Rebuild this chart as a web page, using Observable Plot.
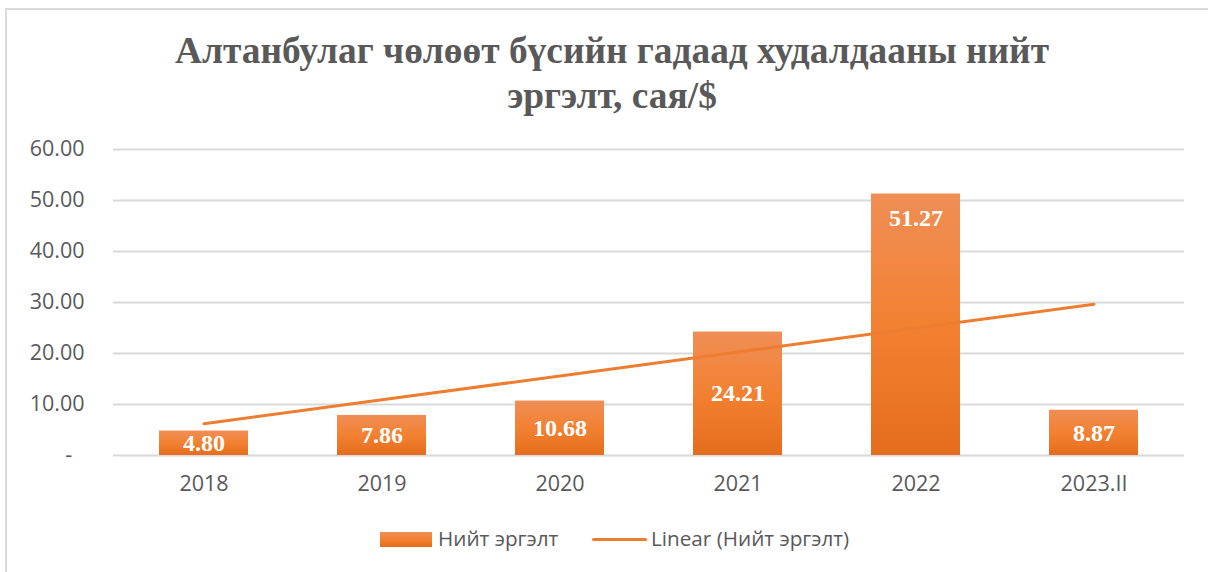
<!DOCTYPE html>
<html>
<head>
<meta charset="utf-8">
<script src="https://cdn.jsdelivr.net/npm/d3@7"></script>
<script src="https://cdn.jsdelivr.net/npm/@observablehq/plot@0.6"></script>
<style>
  html, body { margin: 0; padding: 0; background: #fff; overflow: hidden; }
  #wrap { position: relative; width: 1208px; height: 572px; overflow: hidden; }
  #border { position: absolute; left: 5px; top: 8px; width: 1400px; height: 800px; border: 2px solid #d9d9d9; box-sizing: border-box; }
  #title { position: absolute; left: 8px; width: 1208px; top: 28px; text-align: center;
    font-family: "Liberation Serif", serif; font-weight: bold; font-size: 37.4px; line-height: 45px; color: #595959; }
  #chart { position: absolute; left: 0; top: 0; }
  .legend { position: absolute; top: 524px; font-family: "Open Sans", sans-serif; font-size: 20.7px; color: #595959; white-space: nowrap; }
  .sw-bar { position: absolute; left: 380px; top: 532px; width: 52px; height: 15px; background: linear-gradient(#F08E56, #F28131 50%, #E56D1D); }
  .sw-line { position: absolute; left: 592px; top: 538px; width: 55px; height: 3px; border-radius: 2px; background: #ED7D31; }
</style>
</head>
<body>
<div id="wrap">
  <div id="border"></div>
  <div id="chart"></div>
  <div id="title">Алтанбулаг чөлөөт бүсийн гадаад худалдааны нийт<br>эргэлт, сая/$</div>
  <div class="sw-bar"></div>
  <div class="legend" style="left:438px">Нийт эргэлт</div>
  <div class="sw-line"></div>
  <div class="legend" style="left:651px">Linear (Нийт эргэлт)</div>
</div>
<script>
const categories = ["2018", "2019", "2020", "2021", "2022", "2023.II"];
const values = [4.80, 7.86, 10.68, 24.21, 51.27, 8.87];
const yTicks = [0, 10, 20, 30, 40, 50, 60];
const seriesName = "Нийт эргэлт";

const data = categories.map((c, i) => ({cat: c, v: values[i], i: i + 1}));

// Linear trendline (least squares over category index), as Excel does
const mx = d3.mean(data, d => d.i), my = d3.mean(data, d => d.v);
const slope = d3.sum(data, d => (d.i - mx) * (d.v - my)) / d3.sum(data, d => (d.i - mx) ** 2);
const icpt = my - slope * mx;
const trend = data.map(d => ({cat: d.cat, t: icpt + slope * d.i}));

const defs = () => {
  const svg = d3.create("svg:defs");
  const g = svg.append("linearGradient").attr("id", "barGrad").attr("x1", 0).attr("x2", 0).attr("y1", 0).attr("y2", 1);
  g.append("stop").attr("offset", "0%").attr("stop-color", "#F08E56");
  g.append("stop").attr("offset", "50%").attr("stop-color", "#F28131");
  g.append("stop").attr("offset", "100%").attr("stop-color", "#E56D1D");
  return svg.node();
};

const plot = Plot.plot({
  width: 1208,
  height: 572,
  marginTop: 149,
  marginBottom: 117,
  marginLeft: 113,
  marginRight: 24,
  style: {fontFamily: "'Open Sans', sans-serif", fontSize: "21.5px", color: "#595959", background: "transparent"},
  x: {domain: categories, paddingInner: 0.5, paddingOuter: 0.25, label: null},
  y: {domain: [0, 60], label: null},
  marks: [
    defs,
    Plot.gridY(yTicks, {stroke: "#d9d9d9", strokeOpacity: 1, strokeWidth: 2}),
    Plot.axisY(yTicks, {tickSize: 0, tickPadding: 29, label: null, fill: "#595959",
      tickFormat: d => d === 0 ? "-\u2007" : d.toFixed(2)}),
    Plot.axisX({tickSize: 0, tickPadding: 20, label: null, fill: "#595959"}),
    Plot.barY(data, {x: "cat", y: "v", fill: "url(#barGrad)",
      style: "filter: drop-shadow(0px 0px 2px rgba(0,0,0,0.3))"}),
    Plot.line(trend, {x: "cat", y: "t", stroke: "#ED7D31", strokeWidth: 3, strokeLinecap: "round"}),
    Plot.text(data, {x: "cat", y: d => d.v > 40 ? d.v - 4.7 : d.v / 2, text: d => d.v.toFixed(2),
      fill: "white", fontFamily: "'Liberation Serif', serif", fontWeight: "bold", fontSize: 24})
  ]
});
document.getElementById("chart").appendChild(plot);
</script>
</body>
</html>
